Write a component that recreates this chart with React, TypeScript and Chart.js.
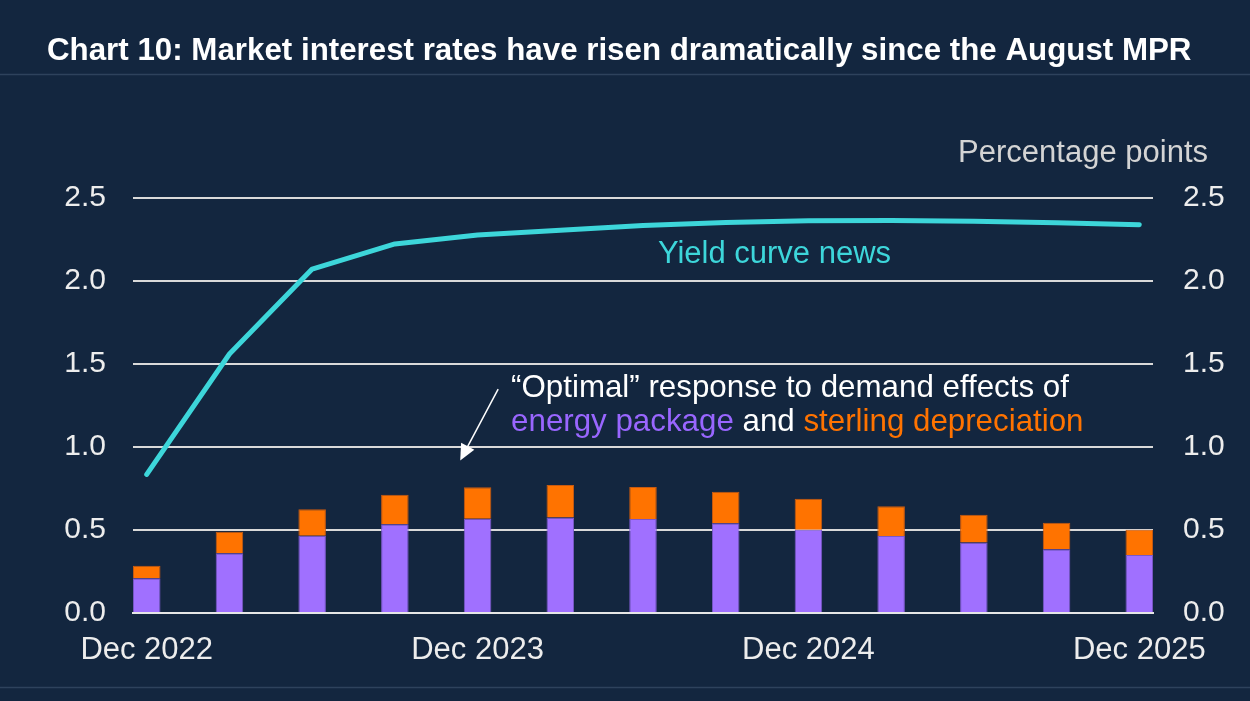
import React, { useEffect, useRef } from 'react';
import { Chart, registerables } from 'chart.js';

Chart.register(...registerables);

// ---- data ----
const quarters = [
  'Dec 2022', 'Mar 2023', 'Jun 2023', 'Sep 2023', 'Dec 2023', 'Mar 2024', 'Jun 2024',
  'Sep 2024', 'Dec 2024', 'Mar 2025', 'Jun 2025', 'Sep 2025', 'Dec 2025',
];
const tickLabels = ['Dec 2022', 'Dec 2023', 'Dec 2024', 'Dec 2025'];
const energyPackage = [0.21, 0.36, 0.466, 0.534, 0.568, 0.576, 0.566, 0.54, 0.502, 0.464, 0.424, 0.384, 0.349];
const sterlingDepreciation = [0.075, 0.13, 0.159, 0.179, 0.189, 0.195, 0.193, 0.191, 0.187, 0.179, 0.168, 0.16, 0.153];
const yieldCurveNews = [0.835, 1.56, 2.072, 2.223, 2.277, 2.305, 2.335, 2.353, 2.363, 2.365, 2.36, 2.351, 2.339];
const yTickValues = [0, 0.5, 1, 1.5, 2, 2.5];

const BG = '#13263F';
const FONT = '"Liberation Sans", Arial, sans-serif';
const CYAN = '#3DD6DA';
const PURPLE = '#A070FF';
const PURPLE_TEXT = '#9966FF';
const ORANGE = '#FF7300';
const TICK_COLOR = '#EDEDED';

const overlayPlugin = {
  id: 'overlay',
  afterDraw(chart: any) {
    const ctx = chart.ctx as CanvasRenderingContext2D;
    const xs = chart.scales.x;
    const ys = chart.scales.y;
    const W = chart.width;
    ctx.save();
    // separators
    ctx.strokeStyle = '#2E425C';
    ctx.lineWidth = 1.5;
    ctx.beginPath();
    ctx.moveTo(0, 74.5);
    ctx.lineTo(W, 74.5);
    ctx.moveTo(0, 687.5);
    ctx.lineTo(W, 687.5);
    ctx.stroke();

    // title
    ctx.textBaseline = 'alphabetic';
    ctx.textAlign = 'left';
    ctx.fillStyle = '#FFFFFF';
    ctx.font = `bold 31.3px ${FONT}`;
    ctx.fillText('Chart 10: Market interest rates have risen dramatically since the August MPR', 47, 60);

    // units
    ctx.font = `31px ${FONT}`;
    ctx.fillStyle = '#D4D4D4';
    ctx.textAlign = 'right';
    ctx.fillText('Percentage points', 1208, 162);

    // series label
    ctx.textAlign = 'left';
    ctx.fillStyle = CYAN;
    ctx.fillText('Yield curve news', xs.getPixelForValue(6.18), ys.getPixelForValue(2.11));

    // annotation
    ctx.font = `31.3px ${FONT}`;
    const ax = xs.getPixelForValue(4.405);
    const l1 = ys.getPixelForValue(1.303);
    const l2 = ys.getPixelForValue(1.098);
    ctx.fillStyle = '#FFFFFF';
    ctx.fillText('\u201COptimal\u201D response to demand effects of', ax, l1);
    let cx = ax;
    const parts: [string, string][] = [
      ['energy package', PURPLE_TEXT],
      [' and ', '#FFFFFF'],
      ['sterling depreciation', ORANGE],
    ];
    for (const [t, c] of parts) {
      ctx.fillStyle = c;
      ctx.fillText(t, cx, l2);
      cx += ctx.measureText(t).width;
    }

    // arrow
    const sx = xs.getPixelForValue(4.249);
    const sy = ys.getPixelForValue(1.349);
    const tx = xs.getPixelForValue(3.79);
    const ty = ys.getPixelForValue(0.919);
    const dx = tx - sx;
    const dy = ty - sy;
    const len = Math.hypot(dx, dy);
    const ux = dx / len;
    const uy = dy / len;
    const headLen = 16;
    const headHalf = 7.5;
    const bx = tx - ux * headLen;
    const by = ty - uy * headLen;
    ctx.strokeStyle = '#FFFFFF';
    ctx.lineWidth = 1.5;
    ctx.beginPath();
    ctx.moveTo(sx, sy);
    ctx.lineTo(bx, by);
    ctx.stroke();
    ctx.fillStyle = '#FFFFFF';
    ctx.beginPath();
    ctx.moveTo(tx, ty);
    ctx.lineTo(bx - uy * headHalf, by + ux * headHalf);
    ctx.lineTo(bx + uy * headHalf, by - ux * headHalf);
    ctx.closePath();
    ctx.fill();
    ctx.restore();
  },
};

export default function App() {
  const ref = useRef<HTMLCanvasElement>(null);
  useEffect(() => {
    document.body.style.margin = '0';
    document.body.style.background = BG;
    const canvas = ref.current!;
    const tickIdx = tickLabels.map((l) => quarters.indexOf(l));
    const chart = new Chart(canvas, {
      data: {
        datasets: [
          {
            type: 'line',
            label: 'Yield curve news',
            data: yieldCurveNews.map((v, i) => ({ x: i, y: v })),
            yAxisID: 'y1',
            borderColor: CYAN,
            borderWidth: 5,
            pointRadius: 0,
            tension: 0,
            borderCapStyle: 'round',
            borderJoinStyle: 'round',
            order: 0,
          },
          {
            type: 'bar',
            label: 'Energy package',
            data: energyPackage.map((v, i) => ({ x: i, y: v })),
            yAxisID: 'y',
            backgroundColor: PURPLE,
            borderColor: '#7A58C8',
            borderWidth: 1,
            stack: 'bars',
            barPercentage: 0.333,
            categoryPercentage: 1,
            order: 1,
          },
          {
            type: 'bar',
            label: 'Sterling depreciation',
            data: sterlingDepreciation.map((v, i) => ({ x: i, y: v })),
            yAxisID: 'y',
            backgroundColor: ORANGE,
            borderColor: '#C85A10',
            borderWidth: 1,
            stack: 'bars',
            barPercentage: 0.333,
            categoryPercentage: 1,
            order: 1,
          },
        ],
      } as any,
      options: {
        animation: false,
        responsive: true,
        maintainAspectRatio: false,
        layout: { padding: { top: 198, left: 0, right: 0, bottom: 0 } },
        plugins: {
          legend: { display: false },
          tooltip: { enabled: false },
          title: { display: false },
        },
        scales: {
          x: {
            type: 'linear',
            offset: false,
            min: -0.166,
            max: 12.166,
            stacked: true,
            grid: { display: false, drawTicks: false, offset: false },
            border: { display: true, color: '#E6E6E6', width: 2 },
            afterBuildTicks: (s: any) => {
              s.ticks = tickIdx.map((v) => ({ value: v }));
            },
            afterFit: (s: any) => {
              s.height = 88;
            },
            ticks: {
              autoSkip: false,
              maxRotation: 0,
              padding: 19,
              color: TICK_COLOR,
              font: { family: FONT, size: 31 },
              callback: (v: any) => quarters[v] ?? '',
            },
          },
          y: {
            position: 'left',
            stacked: true,
            min: 0,
            max: 2.5,
            afterBuildTicks: (s: any) => {
              s.ticks = yTickValues.map((v) => ({ value: v }));
            },
            afterFit: (s: any) => {
              s.width = 133;
            },
            grid: { color: '#D9D9D9', lineWidth: 2, drawTicks: false },
            border: { display: false },
            ticks: {
              padding: 27,
              color: TICK_COLOR,
              font: { family: FONT, size: 30 },
              callback: (v: any) => Number(v).toFixed(1),
            },
          },
          y1: {
            position: 'right',
            min: 0,
            max: 2.5,
            afterBuildTicks: (s: any) => {
              s.ticks = yTickValues.map((v) => ({ value: v }));
            },
            afterFit: (s: any) => {
              s.width = 97;
            },
            grid: { display: false, drawTicks: false },
            border: { display: false },
            ticks: {
              padding: 30,
              color: TICK_COLOR,
              font: { family: FONT, size: 30 },
              callback: (v: any) => Number(v).toFixed(1),
            },
          },
        },
      } as any,
      plugins: [overlayPlugin],
    });
    return () => {
      chart.destroy();
    };
  }, []);
  return (
    <div style={{ position: 'relative', width: 1250, height: 701, background: BG }}>
      <canvas ref={ref} />
    </div>
  );
}
